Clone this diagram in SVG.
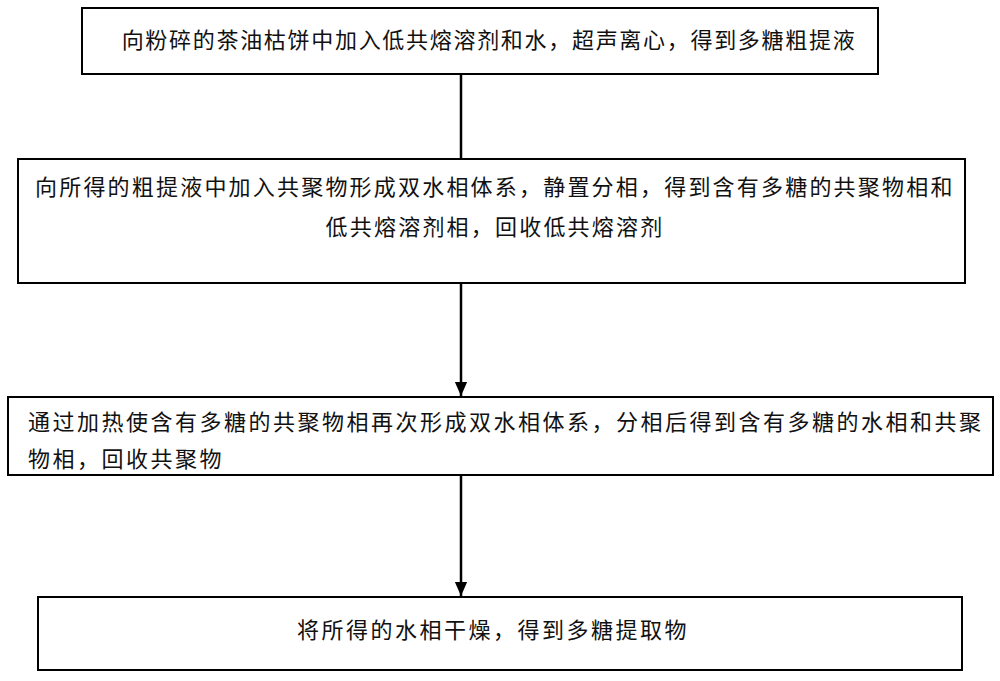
<svg xmlns="http://www.w3.org/2000/svg" width="1000" height="681" viewBox="0 0 1000 681">
<style>
.box{fill:#fff;stroke:#000;stroke-width:2}
.t{font-family:"Noto Sans CJK SC","Noto Sans CJK JP",sans-serif;font-size:22px;letter-spacing:2.5px;fill:#111}
.c{stroke:#000;stroke-width:2.5;fill:none}
</style>
<defs>
<marker id="arr" markerWidth="14" markerHeight="16" refX="16" refY="7" orient="auto" markerUnits="userSpaceOnUse" viewBox="0 0 16 14">
<path d="M0,0 L16,7 L0,14 Z" fill="#000"/>
</marker>
</defs>
<rect width="1000" height="681" fill="#fff"/>
<g id="connectors">
<line class="c" x1="461" y1="74" x2="461" y2="158"/>
<line class="c" x1="461" y1="283" x2="461" y2="396" marker-end="url(#arr)"/>
<line class="c" x1="461" y1="475" x2="461" y2="596" marker-end="url(#arr)"/>
</g>
<g id="n1">
<rect class="box" x="82" y="8" width="796" height="66"/>
<text class="t" x="489" y="48" text-anchor="middle" style="letter-spacing:1.7px">向粉碎的茶油枯饼中加入低共熔溶剂和水，超声离心，得到多糖粗提液</text>
</g>
<g id="n2">
<rect class="box" x="18" y="159" width="947" height="124"/>
<text class="t" x="35" y="195" style="letter-spacing:2.2px">向所得的粗提液中加入共聚物形成双水相体系，静置分相，得到含有多糖的共聚物相和</text>
<text class="t" x="495" y="235" text-anchor="middle" style="letter-spacing:2.2px">低共熔溶剂相，回收低共熔溶剂</text>
</g>
<g id="n3">
<rect class="box" x="8" y="397" width="985" height="78"/>
<text class="t" x="28" y="430">通过加热使含有多糖的共聚物相再次形成双水相体系，分相后得到含有多糖的水相和共聚</text>
<text class="t" x="28" y="467">物相，回收共聚物</text>
</g>
<g id="n4">
<rect class="box" x="38" y="597" width="924" height="73"/>
<text class="t" x="493" y="638" text-anchor="middle">将所得的水相干燥，得到多糖提取物</text>
</g>
</svg>
